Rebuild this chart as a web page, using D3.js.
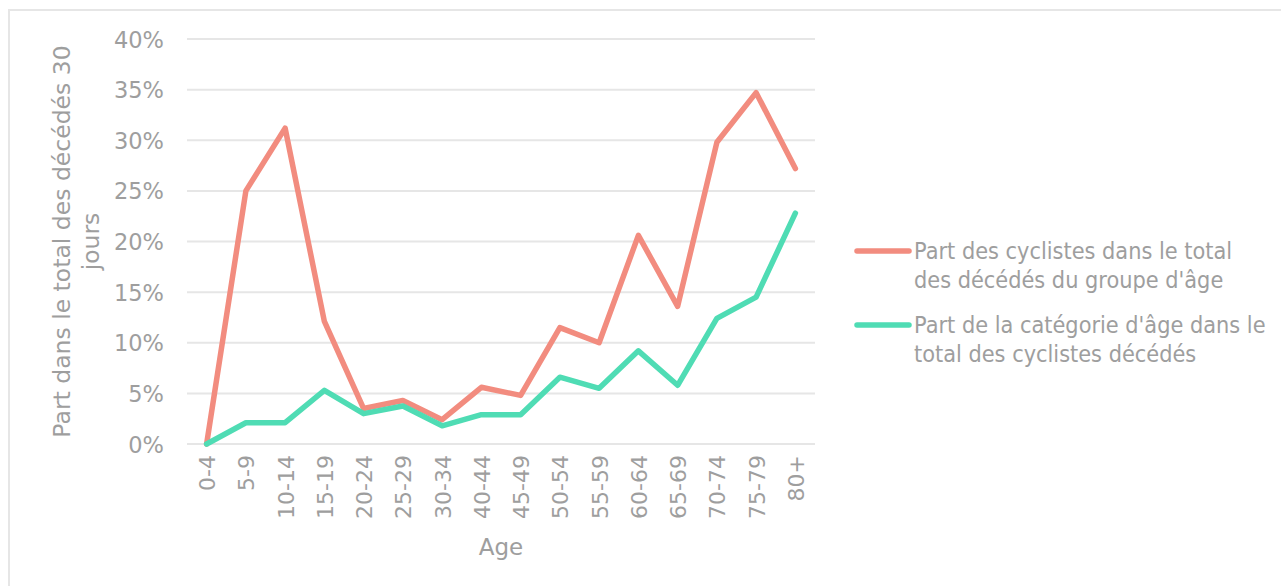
<!DOCTYPE html>
<html>
<head>
<meta charset="utf-8">
<script src="https://cdn.jsdelivr.net/npm/d3@7"></script>
<style>
  html, body { margin: 0; padding: 0; background: #fff; }
  svg { display: block; }
  text { font-family: "DejaVu Sans", Verdana, sans-serif; fill: #9e9e9e; }
</style>
</head>
<body>
<svg id="chart" width="1281" height="586"></svg>
<script>
// Age groups on the x axis
const ageGroups = ["0-4", "5-9", "10-14", "15-19", "20-24", "25-29", "30-34", "40-44",
                   "45-49", "50-54", "55-59", "60-64", "65-69", "70-74", "75-79", "80+"];

// Share of cyclists among all deaths within each age group (%)
const cyclistShareOfGroup = [0, 25.0, 31.2, 12.1, 3.5, 4.3, 2.4, 5.6,
                             4.8, 11.5, 10.0, 20.6, 13.6, 29.8, 34.7, 27.2];

// Share of each age group among all cyclist deaths (%)
const groupShareOfCyclists = [0, 2.1, 2.1, 5.3, 3.0, 3.75, 1.8, 2.9,
                              2.9, 6.6, 5.5, 9.2, 5.8, 12.4, 14.5, 22.8];

const yTicks = [0, 5, 10, 15, 20, 25, 30, 35, 40];

const seriesNames = [
  ["Part des cyclistes dans le total", "des décédés du groupe d'âge"],
  ["Part de la catégorie d'âge dans le", "total des cyclistes décédés"]
];
const seriesColors = ["#f28c7f", "#4fdcb4"];

const svg = d3.select("#chart");

// Light frame around the chart area
svg.append("rect")
  .attr("x", 9).attr("y", 10)
  .attr("width", 1290).attr("height", 600)
  .attr("fill", "none").attr("stroke", "#e6e6e6").attr("stroke-width", 2);

const plot = { left: 187, right: 815, top: 39, bottom: 444 };

const x = d3.scalePoint().domain(ageGroups)
  .range([plot.left, plot.right]).padding(0.5);
const y = d3.scaleLinear().domain([0, 40]).range([plot.bottom, plot.top]);

// Horizontal grid
svg.append("g").selectAll("line").data(yTicks).join("line")
  .attr("x1", plot.left).attr("x2", plot.right)
  .attr("y1", d => y(d)).attr("y2", d => y(d))
  .attr("stroke", "#e6e6e6").attr("stroke-width", 2);

// Y axis labels
const yAxis = svg.append("g")
  .attr("transform", `translate(${plot.left - 23},0)`)
  .call(d3.axisLeft(y).tickValues(yTicks).tickFormat(d => d + "%").tickSize(0).tickPadding(0));
yAxis.select(".domain").remove();
yAxis.selectAll("text")
  .style("font-size", "22.5px").attr("fill", "#9e9e9e").attr("dy", "0.36em");

// X axis labels, rotated
const xAxis = svg.append("g")
  .attr("transform", `translate(0,${plot.bottom})`)
  .call(d3.axisBottom(x).tickSize(0).tickPadding(0));
xAxis.select(".domain").remove();
xAxis.selectAll("text")
  .style("font-size", "22px").attr("fill", "#9e9e9e")
  .attr("text-anchor", "end")
  .attr("transform", `translate(0,11) rotate(-90)`)
  .attr("x", 0).attr("y", 0).attr("dy", "0.36em");

// Axis titles
svg.append("text")
  .attr("x", 501).attr("y", 555)
  .attr("text-anchor", "middle")
  .style("font-size", "23px")
  .text("Age");

const yTitle = svg.append("text")
  .attr("transform", `translate(70,${(plot.top + plot.bottom) / 2}) rotate(-90)`)
  .attr("text-anchor", "middle")
  .style("font-size", "23.5px");
yTitle.append("tspan").attr("x", 0).attr("dy", 0).text("Part dans le total des décédés 30");
yTitle.append("tspan").attr("x", 0).attr("dy", 29).text("jours");

// Lines
const line = d3.line()
  .x((d, i) => x(ageGroups[i]))
  .y(d => y(d));

[cyclistShareOfGroup, groupShareOfCyclists].forEach((vals, k) => {
  svg.append("path")
    .datum(vals)
    .attr("d", line)
    .attr("fill", "none")
    .attr("stroke", seriesColors[k])
    .attr("stroke-width", 5.5)
    .attr("stroke-linejoin", "round")
    .attr("stroke-linecap", "round");
});

// Legend
const legendRows = [251, 325];
seriesNames.forEach((lines, k) => {
  const g = svg.append("g").attr("transform", `translate(0,${legendRows[k]})`);
  g.append("line")
    .attr("x1", 857).attr("x2", 909)
    .attr("y1", 0).attr("y2", 0)
    .attr("stroke", seriesColors[k]).attr("stroke-width", 5.5)
    .attr("stroke-linecap", "round");
  const t = g.append("g").attr("transform", "translate(914,0) scale(0.91,1)");
  lines.forEach((s, j) => {
    t.append("text")
      .attr("x", 0).attr("y", 8 + j * 29.5)
      .style("font-size", "23px")
      .text(s);
  });
});
</script>
</body>
</html>
